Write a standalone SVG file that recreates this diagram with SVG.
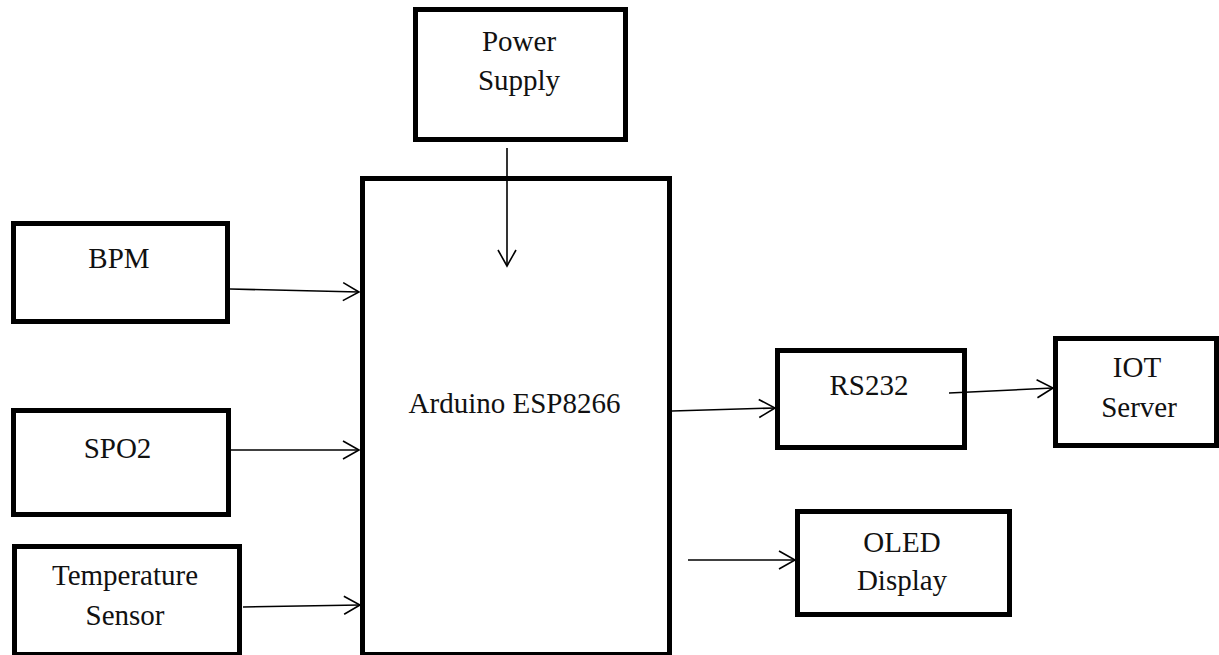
<svg xmlns="http://www.w3.org/2000/svg" width="1219" height="655" viewBox="0 0 1219 655">
<style>
.box{fill:#fff;stroke:#000;stroke-width:5}
.lbl{font-family:"Liberation Serif","Times New Roman",serif;font-size:29px;fill:#111;text-anchor:middle}
.conn{stroke:#000;stroke-width:1.6;fill:none}
</style>
<defs>
<marker id="arr" markerUnits="userSpaceOnUse" markerWidth="30" markerHeight="30" viewBox="-20 -15 30 30" refX="0" refY="0" orient="auto">
<path d="M-16,-9 L0,0 L-16,9" fill="none" stroke="#000" stroke-width="1.6"/>
</marker>
</defs>
<rect width="1219" height="655" fill="#fff"/>
<g id="power">
<rect class="box" x="415.5" y="9.5" width="210" height="130"/>
<text class="lbl" x="519" y="51">Power</text>
<text class="lbl" x="519" y="90">Supply</text>
</g>
<g id="arduino">
<rect class="box" x="362.5" y="178.5" width="307" height="476"/>
<text class="lbl" x="514.5" y="413">Arduino ESP8266</text>
</g>
<g id="bpm">
<rect class="box" x="13.5" y="223.5" width="214" height="98"/>
<text class="lbl" x="119" y="268">BPM</text>
</g>
<g id="spo2">
<rect class="box" x="13.5" y="410.5" width="215" height="104"/>
<text class="lbl" x="117.5" y="458">SPO2</text>
</g>
<g id="temp">
<rect class="box" x="14.5" y="546.5" width="225" height="108"/>
<text class="lbl" x="125" y="585">Temperature</text>
<text class="lbl" x="125" y="625">Sensor</text>
</g>
<g id="rs232">
<rect class="box" x="777.5" y="350.5" width="187" height="97"/>
<text class="lbl" x="869" y="395">RS232</text>
</g>
<g id="iot">
<rect class="box" x="1055.5" y="338.5" width="161" height="107"/>
<text class="lbl" x="1137" y="377">IOT</text>
<text class="lbl" x="1139" y="417">Server</text>
</g>
<g id="oled">
<rect class="box" x="797.5" y="511.5" width="212" height="103"/>
<text class="lbl" x="902" y="552">OLED</text>
<text class="lbl" x="902" y="590">Display</text>
</g>
<g id="connectors">
<line class="conn" x1="507" y1="148" x2="507" y2="266" marker-end="url(#arr)"/>
<line class="conn" x1="230" y1="289" x2="359" y2="292" marker-end="url(#arr)"/>
<line class="conn" x1="231" y1="450" x2="359" y2="450" marker-end="url(#arr)"/>
<line class="conn" x1="243" y1="607" x2="360" y2="605" marker-end="url(#arr)"/>
<line class="conn" x1="672" y1="411" x2="775" y2="408" marker-end="url(#arr)"/>
<line class="conn" x1="949" y1="393" x2="1053" y2="388" marker-end="url(#arr)"/>
<line class="conn" x1="688" y1="560" x2="795" y2="560" marker-end="url(#arr)"/>
</g>
</svg>
